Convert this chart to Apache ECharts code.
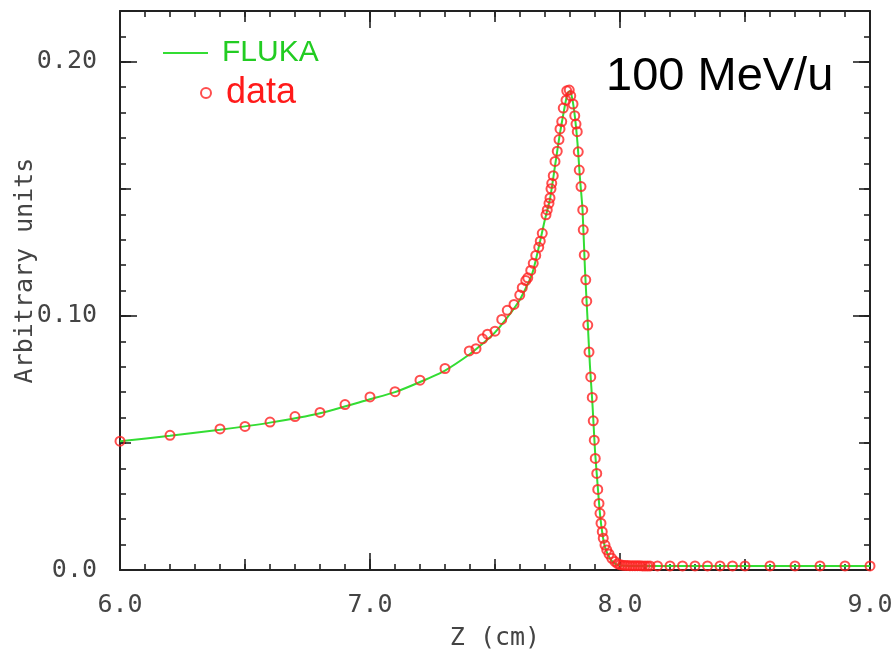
<!DOCTYPE html>
<html>
<head>
<meta charset="utf-8">
<script src="https://cdn.jsdelivr.net/npm/echarts@6/dist/echarts.min.js"></script>
<style>html,body{margin:0;padding:0;background:#fff;}#c{width:892px;height:654px;}</style>
</head>
<body>
<div id="c"></div>
<script>
// ---- data ----
const dataZ = [6.0,6.2,6.4,6.5,6.6,6.7,6.8,6.9,7.0,7.1,7.2,7.3,7.397,7.424,7.45,7.47,7.5,7.527,7.549,7.576,7.599,7.609,7.623,7.631,7.643,7.653,7.663,7.675,7.681,7.689,7.704,7.709,7.716,7.72,7.724,7.727,7.733,7.74,7.749,7.756,7.76,7.767,7.773,7.784,7.787,7.797,7.803,7.812,7.819,7.824,7.829,7.833,7.837,7.844,7.851,7.853,7.857,7.863,7.867,7.871,7.876,7.883,7.889,7.893,7.897,7.901,7.907,7.911,7.916,7.92,7.924,7.929,7.933,7.94,7.947,7.956,7.967,7.98,7.99,8.0,8.01,8.02,8.03,8.04,8.05,8.06,8.07,8.08,8.09,8.1,8.11,8.12,8.15,8.2,8.25,8.3,8.35,8.4,8.45,8.5,8.6,8.7,8.8,8.9,9.0];
const dataValue = [0.0507,0.0530,0.0555,0.0565,0.0582,0.0604,0.0620,0.0651,0.0681,0.0702,0.0747,0.0793,0.0862,0.0871,0.0910,0.0928,0.0940,0.0986,0.1022,0.1045,0.1082,0.1111,0.1139,0.1150,0.1179,0.1207,0.1238,0.1270,0.1294,0.1325,0.1398,0.1417,0.1443,0.1464,0.1500,0.1522,0.1552,0.1608,0.1648,0.1694,0.1736,0.1765,0.1818,0.1849,0.1886,0.1889,0.1866,0.1834,0.1788,0.1755,0.1725,0.1646,0.1574,0.1509,0.1417,0.1339,0.1240,0.1142,0.1058,0.0964,0.0858,0.0760,0.0679,0.0587,0.0511,0.0439,0.0380,0.0317,0.0262,0.0223,0.0184,0.0151,0.0125,0.0098,0.0079,0.0063,0.0046,0.0033,0.0025,0.0021,0.0019,0.0018,0.0018,0.0017,0.0017,0.0017,0.0017,0.0017,0.0016,0.0016,0.0016,0.0016,0.0016,0.0016,0.0016,0.0016,0.0016,0.0016,0.0016,0.0016,0.0016,0.0016,0.0016,0.0016,0.0016];
const flukaZ = [6.0,6.2,6.4,6.6,6.8,7.0,7.1,7.2,7.3,7.4,7.45,7.5,7.55,7.6,7.65,7.7,7.72,7.74,7.76,7.78,7.79,7.80,7.81,7.82,7.83,7.84,7.85,7.86,7.87,7.88,7.89,7.90,7.91,7.92,7.93,7.94,7.96,7.98,8.0,8.1,9.0];
const flukaValue = [0.0507,0.0528,0.0552,0.0580,0.0617,0.0672,0.0700,0.0740,0.0785,0.0850,0.0890,0.0935,0.0995,0.1065,0.1170,0.1380,0.1460,0.1590,0.1720,0.1830,0.1875,0.1885,0.1850,0.1780,0.1680,0.1540,0.1420,0.1180,0.0990,0.0800,0.0650,0.0470,0.0340,0.0220,0.0140,0.0090,0.0045,0.0025,0.0018,0.0016,0.0016];
const xTickLabels = ['6.0','7.0','8.0','9.0'];
const yTickLabels = {0:'0.0', 0.1:'0.10', 0.2:'0.20'};

const chart = echarts.init(document.getElementById('c'), null, {renderer:'canvas'});
const tickColor = '#222';
const labelFont = {fontFamily:'DejaVu Sans Mono', fontSize:25, color:'#444'};

function xAx(pos, interval, len, withLabel, withLine){
  return {
    type:'value', position:pos, min:6, max:9, interval:interval,
    axisLine:{show:withLine, onZero:false, lineStyle:{color:'#222', width:2}},
    axisTick:{show:true, inside:true, length:len, lineStyle:{color:tickColor, width:1.6}},
    axisLabel:withLabel ? Object.assign({show:true, margin:23, formatter:function(v){
      const s=v.toFixed(1); return xTickLabels.indexOf(s)>=0 ? s : '';}}, labelFont) : {show:false},
    splitLine:{show:false},
    name: withLabel ? 'Z (cm)' : '', nameLocation:'middle', nameGap:56, nameMoveOverlap:false,
    nameTextStyle: labelFont
  };
}
function yAx(pos, interval, len, withLabel, withLine){
  return {
    type:'value', position:pos, min:0, max:0.22, interval:interval,
    axisLine:{show:withLine, onZero:false, lineStyle:{color:'#222', width:2}},
    axisTick:{show:true, inside:true, length:len, lineStyle:{color:tickColor, width:1.6}},
    axisLabel:withLabel ? Object.assign({show:true, margin:23, padding:[0,0,12,0], formatter:function(v){
      const k = Math.round(v*100)/100; return (k in yTickLabels) ? yTickLabels[k] : '';}}, labelFont) : {show:false},
    splitLine:{show:false},
    name: withLabel ? 'Arbitrary units' : '', nameLocation:'middle', nameGap:82, nameMoveOverlap:false,
    nameTextStyle: Object.assign({padding:[0,0,0,40]}, labelFont)
  };
}

const option = {
  backgroundColor:'#fff',
  animation:false,
  grid:{left:120, right:22, top:11, bottom:84, containLabel:false, outerBoundsMode:'none'},
  title:{text:'100 MeV/u', left:606, top:54, padding:0,
    textStyle:{fontFamily:'Liberation Sans', fontSize:47, fontWeight:'normal', color:'#000'}},
  legend:[
    {left:158, top:33, itemWidth:45, itemHeight:14, itemGap:0,
     data:[{name:'FLUKA', icon:'path://M0,6 L45,6 L45,8 L0,8 Z'}],
     textStyle:{fontFamily:'Liberation Sans', fontSize:30, color:'#22cc22', padding:[0,0,0,9]}},
    {left:195, top:70, itemWidth:10, itemHeight:10, itemGap:0,
     data:[{name:'data'}],
     textStyle:{fontFamily:'Liberation Sans', fontSize:36, color:'#ff1a1a', padding:[0,0,0,10]}}
  ],
  xAxis:[
    xAx('bottom',1,17,true,true), xAx('bottom',0.5,11,false,false), xAx('bottom',0.1,6,false,false),
    xAx('top',1,17,false,true), xAx('top',0.5,11,false,false), xAx('top',0.1,6,false,false)
  ],
  yAxis:[
    yAx('left',0.1,17,true,true), yAx('left',0.05,11,false,false), yAx('left',0.01,6,false,false),
    yAx('right',0.1,17,false,true), yAx('right',0.05,11,false,false), yAx('right',0.01,6,false,false)
  ],
  series:[
    {name:'FLUKA', type:'line', xAxisIndex:0, yAxisIndex:0, showSymbol:false, smooth:0.2,
     data: flukaZ.map((z,i)=>[z, flukaValue[i]]),
     lineStyle:{color:'#33dd33', width:2}, itemStyle:{color:'#33dd33'}, z:2},
    {name:'data', type:'scatter', xAxisIndex:0, yAxisIndex:0, symbol:'circle', symbolSize:9,
     data: dataZ.map((z,i)=>[z, dataValue[i]]),
     itemStyle:{color:'rgba(255,255,255,0)', borderColor:'#ff2222', borderWidth:2}, z:3}
  ]
};
chart.setOption(option);
</script>
</body>
</html>
